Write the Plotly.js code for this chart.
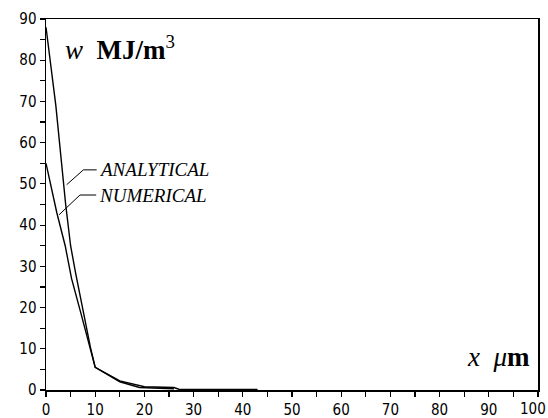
<!DOCTYPE html>
<html>
<head>
<meta charset="utf-8">
<script src="https://cdn.plot.ly/plotly-3.0.1.min.js"></script>
<style>html,body{margin:0;padding:0;background:#fff;}#chart{width:548px;height:418px;}</style>
</head>
<body>
<div id="chart"></div>
<script>
// Data
var analyticalX = [0, 2, 4, 5, 6, 8, 9, 10, 15, 20, 26, 27, 43];
var analyticalY = [88, 69, 45, 35, 28.5, 16.5, 10.5, 5.5, 2.2, 0.8, 0.6, 0.2, 0.15];
var numericalX = [0, 2.2, 3.9, 5.2, 7.1, 8.8, 10, 15, 19, 26];
var numericalY = [55, 43, 35, 27, 18.6, 10.5, 5.5, 2.0, 0.6, 0.3];
var seriesNames = ["ANALYTICAL", "NUMERICAL"];
var xTickVals = [0, 10, 20, 30, 40, 50, 60, 70, 80, 90];
var lastXTick = "100";
var yTickVals = [0, 10, 20, 30, 40, 50, 60, 70, 80, 90];

var lineStyle = {color: "#000", width: 1.4};
var traces = [
  {x: analyticalX, y: analyticalY, mode: "lines", name: seriesNames[0], line: lineStyle, hoverinfo: "skip"},
  {x: numericalX, y: numericalY, mode: "lines", name: seriesNames[1], line: lineStyle, hoverinfo: "skip"}
];

var tickFont = {family: "'DejaVu Sans Condensed', 'DejaVu Sans', sans-serif", size: 15, color: "#000"};
var serif = "'Liberation Serif', 'DejaVu Serif', serif";

var layout = {
  width: 548, height: 418,
  margin: {l: 46, r: 10, t: 19, b: 28, pad: 0},
  paper_bgcolor: "#fff", plot_bgcolor: "#fff",
  showlegend: false,
  xaxis: {
    range: [0, 100], tickvals: xTickVals, ticks: "outside", ticklen: 5, tickwidth: 1.2, tickcolor: "#000",
    minor: {dtick: 5, tick0: 0, ticks: "outside", ticklen: 5, tickwidth: 1.2, tickcolor: "#000"},
    showline: true, linecolor: "#000", linewidth: 1.5, mirror: true,
    showgrid: false, zeroline: false, tickfont: tickFont, fixedrange: true
  },
  yaxis: {
    range: [0, 90], tickvals: yTickVals, ticks: "outside", ticklen: 5, tickwidth: 1.2, tickcolor: "#000",
    minor: {dtick: 5, tick0: 0, ticks: "outside", ticklen: 5, tickwidth: 1.2, tickcolor: "#000"},
    showline: true, linecolor: "#000", linewidth: 1.5, mirror: true,
    showgrid: false, zeroline: false, tickfont: tickFont, fixedrange: true
  },
  shapes: [
    {type: "path", xref: "x", yref: "y", path: "M 4.2 49.8 L 7.6 53.4 L 10.3 53.4", line: {color: "#000", width: 1}},
    {type: "path", xref: "x", yref: "y", path: "M 2.65 42.5 L 6.9 47.3 L 10.2 47.3", line: {color: "#000", width: 1}}
  ],
  annotations: [
    {xref: "paper", yref: "paper", x: 17/492, y: 1 - 10/371, xanchor: "left", yanchor: "top", showarrow: false,
     text: "<i>w</i>  <b>MJ/m</b><sup>3</sup>", font: {family: serif, size: 27, color: "#000"}},
    {xref: "paper", yref: "paper", x: 486/492, y: 16/371, xanchor: "right", yanchor: "bottom", showarrow: false,
     text: "<i>x  μ</i><b>m</b>", font: {family: serif, size: 27, color: "#000"}},
    {xref: "x", yref: "y", x: 10.4, y: 53.4, xanchor: "left", yanchor: "middle", showarrow: false,
     text: "<i>" + seriesNames[0] + "</i>", font: {family: serif, size: 19, color: "#000"}},
    {xref: "x", yref: "y", x: 10.3, y: 47.3, xanchor: "left", yanchor: "middle", showarrow: false,
     text: "<i>" + seriesNames[1] + "</i>", font: {family: serif, size: 19, color: "#000"}},
    {xref: "paper", yref: "paper", x: 1.02, y: 0, yshift: -8, xanchor: "right", yanchor: "top", showarrow: false,
     text: lastXTick, font: tickFont}
  ]
};

Plotly.newPlot("chart", traces, layout, {displayModeBar: false, staticPlot: true});
</script>
</body>
</html>
